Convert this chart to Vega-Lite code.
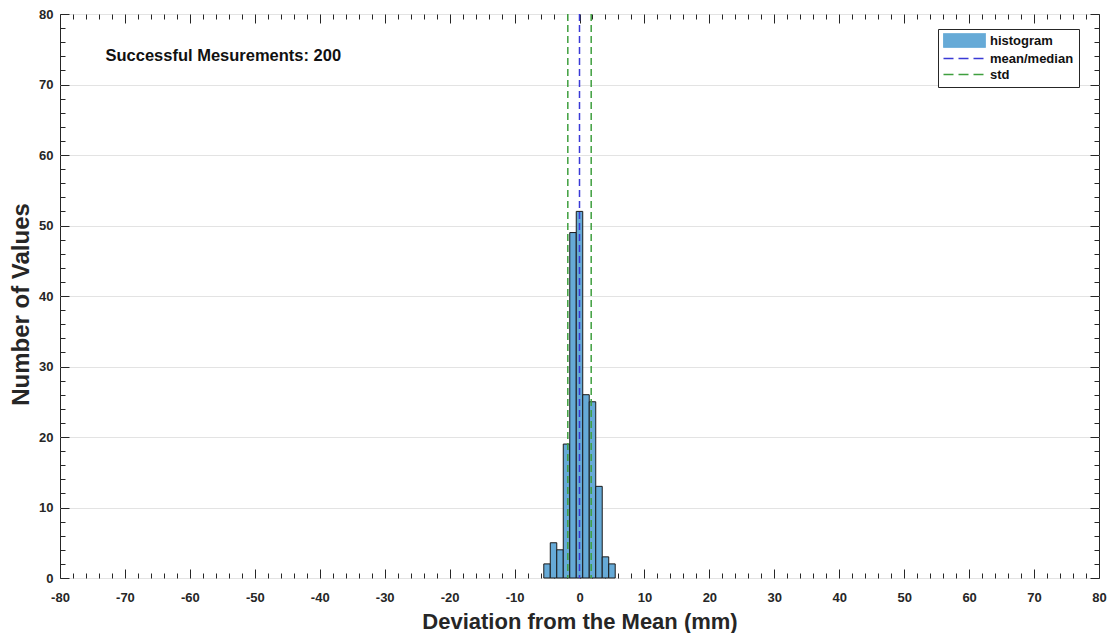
{
  "$schema": "https://vega.github.io/schema/vega-lite/v6.json",
  "width": 1039,
  "height": 564,
  "autosize": {"type": "none"},
  "padding": {"left": 60, "top": 14, "right": 13, "bottom": 55},
  "background": "white",
  "config": {
    "view": {"stroke": "#262626", "strokeWidth": 1},
    "font": "Liberation Sans",
    "axis": {
      "labelFont": "Liberation Sans",
      "labelFontWeight": "bold",
      "labelFontSize": 13,
      "labelColor": "#262626",
      "titleFont": "Liberation Sans",
      "titleFontWeight": "bold",
      "titleFontSize": 22,
      "titleColor": "#262626",
      "domain": false,
      "tickColor": "#262626",
      "tickWidth": 1,
      "labelOverlap": false,
      "labelFlush": false,
      "gridColor": "#e3e3e3",
      "gridWidth": 1
    }
  },
  "datasets": {
    "bins": [
      {"bin_start": -5.5, "bin_end": -4.5, "count": 2},
      {"bin_start": -4.5, "bin_end": -3.5, "count": 5},
      {"bin_start": -3.5, "bin_end": -2.5, "count": 4},
      {"bin_start": -2.5, "bin_end": -1.5, "count": 19},
      {"bin_start": -1.5, "bin_end": -0.5, "count": 49},
      {"bin_start": -0.5, "bin_end": 0.5, "count": 52},
      {"bin_start": 0.5, "bin_end": 1.5, "count": 26},
      {"bin_start": 1.5, "bin_end": 2.5, "count": 25},
      {"bin_start": 2.5, "bin_end": 3.5, "count": 13},
      {"bin_start": 3.5, "bin_end": 4.5, "count": 3},
      {"bin_start": 4.5, "bin_end": 5.5, "count": 2}
    ],
    "stats": [
      {"stat": "mean/median", "value": 0},
      {"stat": "std", "value": -1.8},
      {"stat": "std", "value": 1.8}
    ],
    "note": [
      {"x": -73, "y": 73.4, "label": "Successful Mesurements: 200"}
    ]
  },
  "layer": [
    {
      "data": {"name": "bins"},
      "mark": {
        "type": "rect",
        "opacity": 1,
        "strokeWidth": 1,
        "stroke": {"expr": "datum.value === 'mean/median' ? '#3a3ad6' : (datum.value === 'std' ? '#3f9f3f' : '#1a1a1a')"}
      },
      "encoding": {
        "x": {
          "field": "bin_start",
          "type": "quantitative",
          "scale": {"domain": [-80, 80], "nice": false, "zero": false},
          "axis": {
            "orient": "bottom",
            "title": "Deviation from the Mean (mm)",
            "tickCount": 80,
            "labelExpr": "datum.value % 10 === 0 ? toString(datum.value) : ''",
            "tickSize": {"condition": {"test": "datum.value % 10 === 0", "value": -9}, "value": -5},
            "grid": false,
            "labelPadding": 22.5,
            "titlePadding": 3
          }
        },
        "x2": {"field": "bin_end"},
        "y": {
          "field": "count",
          "type": "quantitative",
          "scale": {"domain": [0, 80], "nice": false},
          "axis": {
            "orient": "left",
            "title": "Number of Values",
            "titleFontSize": 24,
            "titleY": 290,
            "tickCount": 40,
            "labelExpr": "datum.value % 10 === 0 ? toString(datum.value) : ''",
            "tickSize": {"condition": {"test": "datum.value % 10 === 0", "value": -9}, "value": -5},
            "grid": true,
            "gridOpacity": {"condition": {"test": "datum.value % 10 === 0", "value": 1}, "value": 0},
            "labelPadding": 16,
            "titlePadding": 5
          }
        },
        "y2": {"datum": 0},
        "color": {
          "datum": "histogram",
          "type": "nominal",
          "scale": {"domain": ["histogram", "mean/median", "std"], "range": ["#66AAD7", "#3a3ad6", "#3f9f3f"]},
          "legend": {
            "title": null,
            "orient": "none",
            "legendX": 878,
            "legendY": 15,
            "direction": "vertical",
            "fillColor": "white",
            "strokeColor": "#262626",
            "padding": 5,
            "rowPadding": 2,
            "labelFont": "Liberation Sans",
            "labelFontWeight": "bold",
            "labelFontSize": 13,
            "labelColor": "#111111",
            "labelOffset": 34,
            "symbolSize": 144,
            "symbolOpacity": 1,
            "symbolType": {"expr": "datum.value === 'histogram' ? 'M-1,-1.15H6V1.15H-1Z' : 'M-1,0H6'"},
            "symbolStrokeColor": {"expr": "datum.value === 'histogram' ? '#1a1a1a' : (datum.value === 'std' ? '#3f9f3f' : '#3a3ad6')"},
            "symbolDash": {"expr": "datum.value === 'histogram' ? [1, 0] : [10, 5]"},
            "symbolStrokeWidth": {"expr": "datum.value === 'histogram' ? 1 : 1.5"}
          }
        }
      }
    },
    {
      "data": {"name": "stats"},
      "mark": {"type": "rule", "strokeDash": [7, 4], "strokeWidth": 1.5},
      "encoding": {
        "x": {"field": "value", "type": "quantitative", "axis": null},
        "color": {"field": "stat", "type": "nominal", "legend": null}
      }
    },
    {
      "data": {"name": "note"},
      "mark": {"type": "text", "align": "left", "baseline": "alphabetic", "font": "Liberation Sans", "fontWeight": "bold", "fontSize": 16.5, "color": "#111111"},
      "encoding": {
        "x": {
          "field": "x",
          "type": "quantitative",
          "axis": {
            "orient": "top",
            "labels": false,
            "title": null,
            "tickCount": 80,
            "tickSize": {"condition": {"test": "datum.value % 10 === 0", "value": -9}, "value": -5},
            "grid": false
          }
        },
        "y": {
          "field": "y",
          "type": "quantitative",
          "axis": {
            "orient": "right",
            "labels": false,
            "title": null,
            "tickCount": 40,
            "tickSize": {"condition": {"test": "datum.value % 10 === 0", "value": -9}, "value": -5},
            "grid": false
          }
        },
        "text": {"field": "label"}
      }
    }
  ]
}
